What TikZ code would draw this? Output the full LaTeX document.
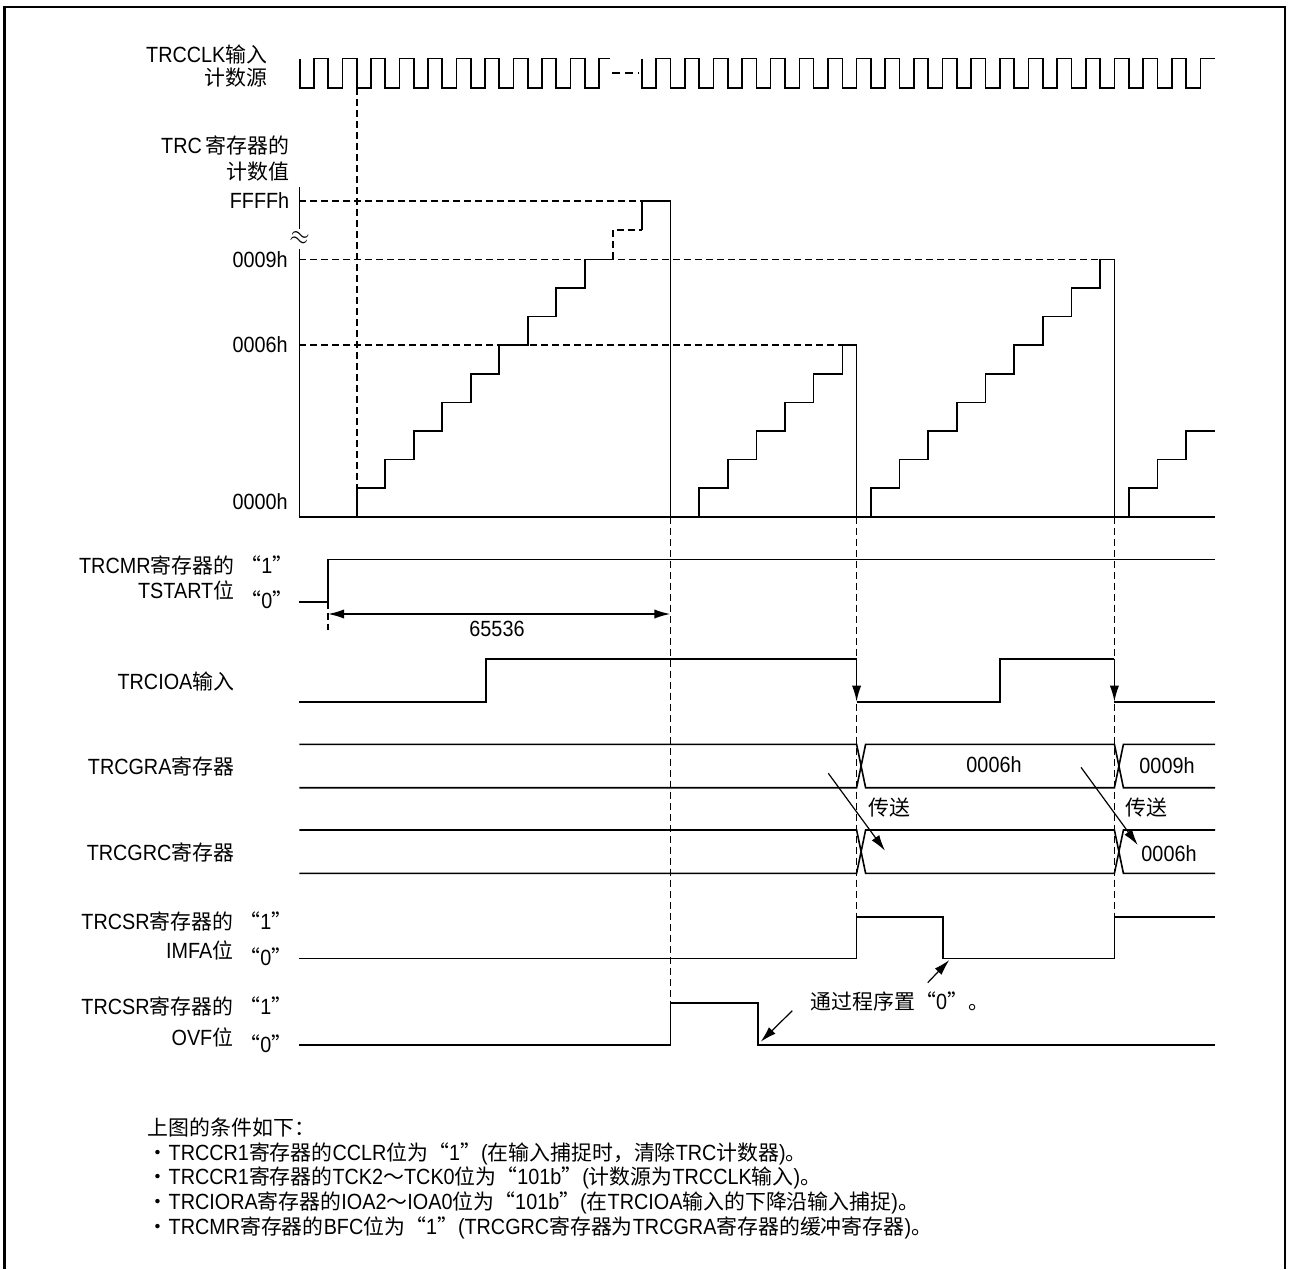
\documentclass[tikz,border=0pt]{standalone}
\usepackage{fontspec}
\setmainfont{Liberation Sans}[FakeStretch=0.9]
\newfontfamily\cjk{Noto Sans CJK SC}[Scale=0.95]
\newcommand{\zh}[1]{{\cjk #1}}
\usetikzlibrary{arrows.meta}

\tikzset{every picture/.style={line width=0.8pt}}
\tikzset{
  lbl/.style={anchor=east, inner sep=0pt},
  val/.style={inner sep=0pt},
  guide/.style={dash pattern={on 3.5pt off 2pt}},
  tip/.style={-{Latex[length=8pt,width=4.6pt]}},
}

\begin{document}
\begin{tikzpicture}[x=0.5pt,y=0.5pt,yscale=-1,xscale=1,font=\fontsize{11}{13}\selectfont]
\useasboundingbox (0,0) rectangle (1289,1269);

%Frame
\draw [line width=1.4pt]  (4.5,1269) -- (4.5,7) -- (1285,7) -- (1285,1269) ;

%Labels, left column
\node [lbl] (clkA) at (268,54.5) {TRCCLK\zh{输入}};
\node [lbl] (clkB) at (268,78) {\zh{计数源}};
\node [lbl] (cntA) at (290,145) {TRC\,\zh{寄存器的}};
\node [lbl] (cntB) at (290,172) {\zh{计数值}};
\node [lbl] (vFFFF) at (290,201) {FFFFh};
\node [lbl] (v0009) at (288.5,259.3) {0009h};
\node [lbl] (v0006) at (288.5,345.1) {0006h};
\node [lbl] (v0000) at (288.5,501.7) {0000h};
\node [val, font=\fontsize{13}{13}\selectfont, rotate=-15] (axisBrk) at (299.3,238.5) {$\approx$};
\node [lbl] (tsA) at (235,565) {TRCMR\zh{寄存器的}};
\node [val] (tsOne) at (267,565) {\zh{“}1\zh{”}};
\node [lbl] (tsB) at (235,590) {TSTART\zh{位}};
\node [val] (tsZero) at (267,600) {\zh{“}0\zh{”}};
\node [lbl] (ioaLbl) at (235,681.7) {TRCIOA\zh{输入}};
\node [lbl] (graLbl) at (235,766) {TRCGRA\zh{寄存器}};
\node [lbl] (grcLbl) at (235,852) {TRCGRC\zh{寄存器}};
\node [lbl] (imfaA) at (234,921) {TRCSR\zh{寄存器的}};
\node [val] (imfaOne) at (266,921) {\zh{“}1\zh{”}};
\node [lbl] (imfaB) at (234,950) {IMFA\zh{位}};
\node [val] (imfaZero) at (266,957) {\zh{“}0\zh{”}};
\node [lbl] (ovfA) at (234,1006) {TRCSR\zh{寄存器的}};
\node [val] (ovfOne) at (266,1006) {\zh{“}1\zh{”}};
\node [lbl] (ovfB) at (234,1037) {OVF\zh{位}};
\node [val] (ovfZero) at (266,1044) {\zh{“}0\zh{”}};

%Clock input, before the break
\draw   (299.7,58.5) -- (299.7,88) -- (314,88) -- (314,58.5) -- (328.2,58.5) -- (328.2,88) -- (342.5,88) -- (342.5,58.5) -- (356.7,58.5) -- (356.7,88) -- (371,88) -- (371,58.5) -- (385.2,58.5) -- (385.2,88) -- (399.5,88) -- (399.5,58.5) -- (413.7,58.5) -- (413.7,88) -- (428,88) -- (428,58.5) -- (442.2,58.5) -- (442.2,88) -- (456.5,88) -- (456.5,58.5) -- (470.7,58.5) -- (470.7,88) -- (485,88) -- (485,58.5) -- (499.2,58.5) -- (499.2,88) -- (513.5,88) -- (513.5,58.5) -- (527.7,58.5) -- (527.7,88) -- (542,88) -- (542,58.5) -- (556.2,58.5) -- (556.2,88) -- (570.5,88) -- (570.5,58.5) -- (584.7,58.5) -- (584.7,88) -- (599,88) -- (599,58.5) -- (610,58.5) ;
%Clock break
\draw [dash pattern={on 4pt off 2.5pt}]  (612,72.7) -- (639,72.7) ;
%Clock input, after the break
\draw   (641.7,58.5) -- (641.7,88) -- (656,88) -- (656,58.5) -- (670.4,58.5) -- (670.4,88) -- (684.7,88) -- (684.7,58.5) -- (699,58.5) -- (699,88) -- (713.3,88) -- (713.3,58.5) -- (727.7,58.5) -- (727.7,88) -- (742,88) -- (742,58.5) -- (756.3,58.5) -- (756.3,88) -- (770.6,88) -- (770.6,58.5) -- (785,58.5) -- (785,88) -- (799.3,88) -- (799.3,58.5) -- (813.6,58.5) -- (813.6,88) -- (827.9,88) -- (827.9,58.5) -- (842.3,58.5) -- (842.3,88) -- (856.6,88) -- (856.6,58.5) -- (870.9,58.5) -- (870.9,88) -- (885.2,88) -- (885.2,58.5) -- (899.6,58.5) -- (899.6,88) -- (913.9,88) -- (913.9,58.5) -- (928.2,58.5) -- (928.2,88) -- (942.5,88) -- (942.5,58.5) -- (956.9,58.5) -- (956.9,88) -- (971.2,88) -- (971.2,58.5) -- (985.5,58.5) -- (985.5,88) -- (999.8,88) -- (999.8,58.5) -- (1014.2,58.5) -- (1014.2,88) -- (1028.5,88) -- (1028.5,58.5) -- (1042.8,58.5) -- (1042.8,88) -- (1057.1,88) -- (1057.1,58.5) -- (1071.5,58.5) -- (1071.5,88) -- (1085.8,88) -- (1085.8,58.5) -- (1100.1,58.5) -- (1100.1,88) -- (1114.4,88) -- (1114.4,58.5) -- (1128.8,58.5) -- (1128.8,88) -- (1143.1,88) -- (1143.1,58.5) -- (1157.4,58.5) -- (1157.4,88) -- (1171.7,88) -- (1171.7,58.5) -- (1186.1,58.5) -- (1186.1,88) -- (1200.4,88) -- (1200.4,58.5) -- (1215,58.5) ;

%Counter axes
\draw   (299.3,187) -- (299.3,229) ;
\draw   (299.3,249) -- (299.3,516.7) -- (1215,516.7) ;
%Guide lines of the counter
\draw [guide]  (356.7,88) -- (356.7,488.1) ;
\draw [guide]  (299.3,201) -- (641.7,201) ;
\draw [guide]  (299.3,259.3) -- (1100.1,259.3) ;
\draw [guide]  (299.3,345.1) -- (842.3,345.1) ;
\draw [guide]  (613.2,259.3) -- (613.2,230) -- (641.7,230) ;
%Staircase up to overflow
\draw   (356.7,516.7) -- (356.7,488.1) -- (385.2,488.1) -- (385.2,459.5) -- (413.7,459.5) -- (413.7,430.9) -- (442.2,430.9) -- (442.2,402.3) -- (470.7,402.3) -- (470.7,373.7) -- (499.2,373.7) -- (499.2,345.1) -- (527.7,345.1) -- (527.7,316.5) -- (556.2,316.5) -- (556.2,287.9) -- (584.7,287.9) -- (584.7,259.3) -- (613.2,259.3) ;
\draw   (641.7,230) -- (641.7,201) -- (670.4,201) -- (670.4,516.7) ;
%Staircase up to first capture
\draw   (699,516.7) -- (699,488.1) -- (727.7,488.1) -- (727.7,459.5) -- (756.3,459.5) -- (756.3,430.9) -- (785,430.9) -- (785,402.3) -- (813.6,402.3) -- (813.6,373.7) -- (842.3,373.7) -- (842.3,345.1) -- (856.6,345.1) -- (856.6,516.7) ;
%Staircase up to second capture
\draw   (870.9,516.7) -- (870.9,488.1) -- (899.6,488.1) -- (899.6,459.5) -- (928.2,459.5) -- (928.2,430.9) -- (956.9,430.9) -- (956.9,402.3) -- (985.5,402.3) -- (985.5,373.7) -- (1014.2,373.7) -- (1014.2,345.1) -- (1042.8,345.1) -- (1042.8,316.5) -- (1071.5,316.5) -- (1071.5,287.9) -- (1100.1,287.9) -- (1100.1,259.3) -- (1114.4,259.3) -- (1114.4,516.7) ;
%Staircase after second capture
\draw   (1128.8,516.7) -- (1128.8,488.1) -- (1157.4,488.1) -- (1157.4,459.5) -- (1186.1,459.5) -- (1186.1,430.9) -- (1215,430.9) ;

%Guide lines down through the signals
\draw [guide]  (670.4,516.7) -- (670.4,1002.7) ;
\draw [guide]  (856.6,516.7) -- (856.6,916.7) ;
\draw [guide]  (1114.4,516.7) -- (1114.4,916.7) ;
\draw [guide]  (328,601.7) -- (328,630) ;

%TSTART bit
\draw   (299.3,601.7) -- (328,601.7) -- (328,559.3) -- (1215,559.3) ;
\coordinate (spanA) at (328,614);
\coordinate (spanB) at (670.4,614);
\draw [{Latex[length=8pt,width=4.6pt]}-{Latex[length=8pt,width=4.6pt]}]  (spanA) -- (spanB) ;
\node [val] (span) at (497,629) {65536};

%TRCIOA input
\draw   (299.3,701.7) -- (486,701.7) -- (486,658.7) -- (856.6,658.7) ;
\draw [tip]  (856.6,658.7) -- (856.6,701.7) ;
\draw   (856.6,701.7) -- (1000,701.7) -- (1000,658.7) -- (1114.4,658.7) ;
\draw [tip]  (1114.4,658.7) -- (1114.4,701.7) ;
\draw   (1114.4,701.7) -- (1215,701.7) ;

%TRCGRA bus
\draw   (299.3,744.3) -- (856.6,744.3) -- (865.6,787.7) -- (1114.4,787.7) -- (1123.4,744.3) -- (1215,744.3) ;
\draw   (299.3,787.7) -- (856.6,787.7) -- (865.6,744.3) -- (1114.4,744.3) -- (1123.4,787.7) -- (1215,787.7) ;
\node [val] (graA) at (994,765) {0006h};
\node [val] (graB) at (1167,766) {0009h};
%TRCGRC bus
\draw   (299.3,830) -- (856.6,830) -- (865.6,873.3) -- (1114.4,873.3) -- (1123.4,830) -- (1215,830) ;
\draw   (299.3,873.3) -- (856.6,873.3) -- (865.6,830) -- (1114.4,830) -- (1123.4,873.3) -- (1215,873.3) ;
\node [val] (grcB) at (1169,854) {0006h};

%Transfer arrows
\node [val] (xferA) at (889,808) {\zh{传送}};
\node [val] (xferB) at (1146,808) {\zh{传送}};
\coordinate (xa1) at (828.3,773.3);
\coordinate (xa2) at (885,850.7);
\coordinate (xb1) at (1081,767.3);
\coordinate (xb2) at (1137.7,845);
\draw [tip, line width=0.6pt]  (xa1) -- (xa2) ;
\draw [tip, line width=0.6pt]  (xb1) -- (xb2) ;

%IMFA bit
\draw   (299.3,958.3) -- (856.6,958.3) -- (856.6,916.7) -- (942.7,916.7) -- (942.7,958.3) -- (1114.4,958.3) -- (1114.4,916.7) -- (1215,916.7) ;
%OVF bit
\draw   (299.3,1045) -- (670.4,1045) -- (670.4,1002.7) -- (757.7,1002.7) -- (757.7,1045) -- (1215,1045) ;

%Cleared by program
\node [anchor=west, inner sep=0pt] (clrNote) at (810,1001.7) {\zh{通过程序置“}0\zh{”。}};
\coordinate (ca1) at (927.7,982.7);
\coordinate (ca2) at (949.3,960);
\coordinate (cb1) at (792.3,1010.7);
\coordinate (cb2) at (760.7,1041.7);
\draw [tip, line width=0.6pt]  (ca1) -- (ca2) ;
\draw [tip, line width=0.6pt]  (cb1) -- (cb2) ;

%Conditions
\node [anchor=north west, align=left, inner sep=0pt, font=\fontsize{11}{12.35}\selectfont] (conds) at (147,1117) {\zh{上图的条件如下：}\\
\zh{・}TRCCR1\zh{寄存器的}CCLR\zh{位为“}1\zh{”}(\zh{在输入捕捉时，清除}TRC\zh{计数器})\zh{。}\\
\zh{・}TRCCR1\zh{寄存器的}TCK2\zh{～}TCK0\zh{位为“}101b\zh{”}(\zh{计数源为}TRCCLK\zh{输入})\zh{。}\\
\zh{・}TRCIORA\zh{寄存器的}IOA2\zh{～}IOA0\zh{位为“}101b\zh{”}(\zh{在}TRCIOA\zh{输入的下降沿输入捕捉})\zh{。}\\
\zh{・}TRCMR\zh{寄存器的}BFC\zh{位为“}1\zh{”}(TRCGRC\zh{寄存器为}TRCGRA\zh{寄存器的缓冲寄存器})\zh{。}};

\end{tikzpicture}
\end{document}
